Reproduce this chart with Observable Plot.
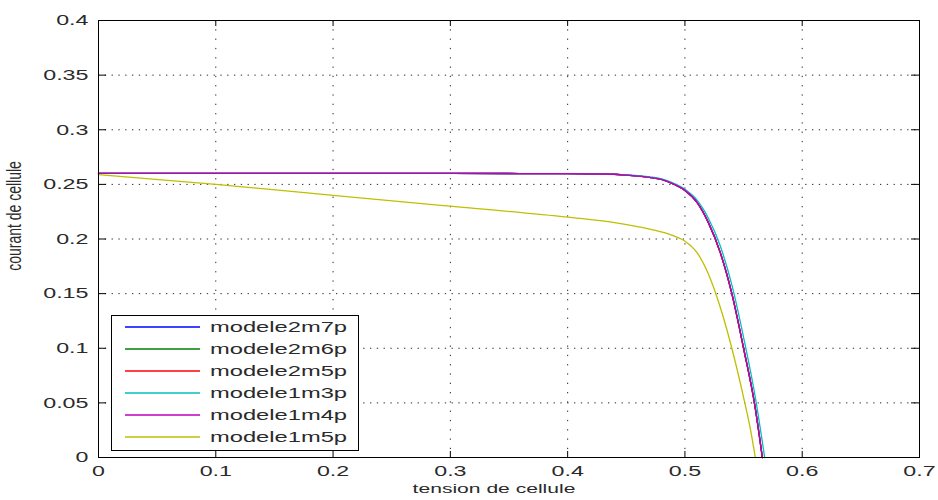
<!DOCTYPE html>
<html>
<head>
<meta charset="utf-8">
<script src="https://cdn.jsdelivr.net/npm/d3@7"></script>
<script src="https://cdn.jsdelivr.net/npm/@observablehq/plot@0.6"></script>
<style>
  body { margin: 0; background: #fff; }
  #chart { position: relative; width: 938px; height: 500px; font-family: "Liberation Sans", Arial, sans-serif; }
  #legend { position: absolute; left: 111px; top: 315px; }
</style>
</head>
<body>
<div id="chart"><div id="legend"></div></div>
<script>
// I–V curves of the cell models (tension in V, courant in A)
const models = ["modele2m7p", "modele2m6p", "modele2m5p", "modele1m3p", "modele1m4p", "modele1m5p"];
const colors = ["#0000ff", "#008000", "#ff0000", "#00bfbf", "#bf00bf", "#bfbf00"];

const tension2m = [0, 0.1, 0.2, 0.3, 0.4, 0.43, 0.45, 0.47, 0.48, 0.49, 0.50, 0.51, 0.52, 0.53, 0.54, 0.55, 0.56, 0.566];
const courant2m7p = [0.26, 0.26, 0.26, 0.26, 0.2598, 0.2595, 0.2585, 0.2565, 0.2545, 0.2505, 0.2445, 0.234, 0.215, 0.188, 0.150, 0.100, 0.045, 0];
const courant2m6p = [0.26, 0.26, 0.26, 0.26, 0.2598, 0.2595, 0.2585, 0.2565, 0.2545, 0.2505, 0.2445, 0.234, 0.215, 0.188, 0.150, 0.100, 0.045, 0];
const courant2m5p = [0.26, 0.26, 0.26, 0.26, 0.2598, 0.2595, 0.2585, 0.2565, 0.2545, 0.2505, 0.2445, 0.234, 0.215, 0.188, 0.150, 0.100, 0.045, 0];

const tension1m3p = [0, 0.1, 0.2, 0.3, 0.4, 0.43, 0.45, 0.47, 0.48, 0.49, 0.50, 0.51, 0.52, 0.53, 0.54, 0.55, 0.56, 0.568];
const courant1m3p = [0.26, 0.26, 0.26, 0.26, 0.2598, 0.2596, 0.2587, 0.2568, 0.255, 0.2512, 0.2455, 0.236, 0.219, 0.194, 0.158, 0.110, 0.055, 0];
const tension1m4p = [0, 0.1, 0.2, 0.3, 0.4, 0.43, 0.45, 0.47, 0.48, 0.49, 0.50, 0.51, 0.52, 0.53, 0.54, 0.55, 0.56, 0.566];
const courant1m4p = [0.26, 0.26, 0.26, 0.26, 0.2598, 0.2595, 0.2585, 0.2565, 0.2545, 0.2505, 0.2445, 0.234, 0.215, 0.188, 0.150, 0.100, 0.045, 0];

const tension1m5p = [0, 0.1, 0.2, 0.3, 0.4, 0.44, 0.47, 0.49, 0.50, 0.51, 0.52, 0.53, 0.54, 0.55, 0.556, 0.56];
const courant1m5p = [0.259, 0.25, 0.24, 0.23, 0.22, 0.215, 0.209, 0.203, 0.198, 0.188, 0.168, 0.138, 0.100, 0.055, 0.025, 0];

const series = [
  [tension2m, courant2m7p],
  [tension2m, courant2m6p],
  [tension2m, courant2m5p],
  [tension1m3p, courant1m3p],
  [tension1m4p, courant1m4p],
  [tension1m5p, courant1m5p]
];

const xTicks = [0, 0.1, 0.2, 0.3, 0.4, 0.5, 0.6, 0.7];
const yTicks = [0, 0.05, 0.1, 0.15, 0.2, 0.25, 0.3, 0.35, 0.4];
const xLabel = "tension de cellule";
const yLabel = "courant de cellule";

const rows = models.flatMap((model, i) =>
  series[i][0].map((t, j) => ({model, tension: t, courant: series[i][1][j]}))
);

const width = 938, height = 500;
const margin = {left: 98, top: 20, right: 19, bottom: 43};
const frameW = width - margin.left - margin.right;
const frameH = height - margin.top - margin.bottom;
const ink = "#2a2a2a";

const chart = Plot.plot({
  width, height,
  marginLeft: margin.left, marginTop: margin.top, marginRight: margin.right, marginBottom: margin.bottom,
  style: {fontFamily: "'Liberation Sans', Arial, sans-serif", fontSize: "15px", color: ink, background: "#fff"},
  x: {domain: [0, 0.7], label: null},
  y: {domain: [0, 0.4], label: null},
  color: {domain: models, range: colors},
  marks: [
    Plot.gridX(xTicks, {stroke: "#000", strokeOpacity: 0.85, strokeDasharray: "1.3,8"}),
    Plot.gridY(yTicks, {stroke: "#000", strokeOpacity: 0.85, strokeDasharray: "1.3,5.5"}),
    Plot.line(rows, {x: "tension", y: "courant", z: "model", stroke: "model", strokeWidth: 1.3, curve: "monotone-x"}),
    // inward ticks on all four sides
    Plot.tickX(xTicks, {x: d => d, insetTop: frameH - 6, stroke: "#000"}),
    Plot.tickX(xTicks, {x: d => d, insetBottom: frameH - 6, stroke: "#000"}),
    Plot.tickY(yTicks, {y: d => d, insetRight: frameW - 8, stroke: "#000"}),
    Plot.tickY(yTicks, {y: d => d, insetLeft: frameW - 8, stroke: "#000"}),
    Plot.axisX(xTicks, {tickSize: 0, tickPadding: 8, tickFormat: d => String(d), fill: ink}),
    Plot.axisY(yTicks, {tickSize: 0, tickPadding: 10, tickFormat: d => String(d), fill: ink}),
    Plot.frame({stroke: "#000"}),
    Plot.text([xLabel], {text: d => d, frameAnchor: "bottom", textAnchor: "middle", dy: 35, dx: -15, fontSize: 13, fill: ink, className: "xlab"}),
    Plot.text([yLabel], {text: d => d, frameAnchor: "left", textAnchor: "middle", rotate: -90, dx: -84, dy: -23, fontSize: 14, fill: ink, className: "ylab"})
  ]
});

document.getElementById("chart").prepend(chart);

// widen horizontal texts (wide figure font)
function widen(sel, k) {
  sel.each(function () {
    const w = this.getComputedTextLength();
    this.setAttribute("textLength", (w * k).toFixed(1));
    this.setAttribute("lengthAdjust", "spacingAndGlyphs");
  });
}
const svg = d3.select(chart);
widen(svg.selectAll('g[aria-label="x-axis tick label"] text, g[aria-label="y-axis tick label"] text'), 1.55);
widen(svg.selectAll('.xlab text'), 1.62);
// the rotated label gets the same widening across its glyph height
svg.selectAll('.ylab text').each(function () {
  this.setAttribute("transform", this.getAttribute("transform") + " scale(1,1.4)");
});

// legend box
const legW = 248, legH = 136, rowH = 22;
const leg = d3.select("#legend").append("svg").attr("width", legW).attr("height", legH);
leg.append("rect").attr("x", 0.5).attr("y", 0.5).attr("width", legW - 1).attr("height", legH - 1)
  .attr("fill", "#fff").attr("stroke", "#000");
const item = leg.selectAll("g").data(models).join("g")
  .attr("transform", (d, i) => `translate(0,${12 + i * rowH})`);
item.append("line").attr("x1", 14).attr("x2", 89).attr("y1", 0).attr("y2", 0)
  .attr("stroke", (d, i) => colors[i]).attr("stroke-width", 1.3);
item.append("text").attr("x", 99).attr("y", 0).attr("dy", "0.35em")
  .attr("font-family", "'Liberation Sans', Arial, sans-serif").attr("font-size", 15).attr("fill", ink)
  .text(d => d);
widen(item.selectAll("text"), 1.58);
</script>
</body>
</html>
